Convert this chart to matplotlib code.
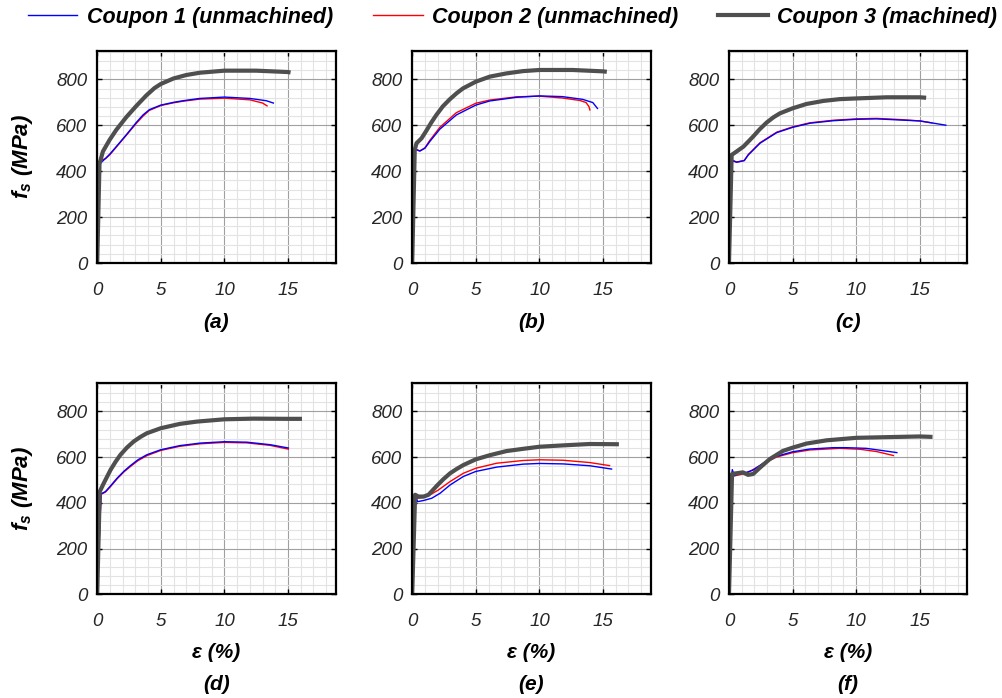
import matplotlib
matplotlib.use("Agg")
import matplotlib.pyplot as plt
from matplotlib.ticker import MultipleLocator
from matplotlib.lines import Line2D

plt.rcParams['font.family'] = ['Liberation Sans', 'DejaVu Sans']
plt.rcParams['mathtext.fontset'] = 'custom'
plt.rcParams['mathtext.bfit'] = 'Liberation Sans:bold:italic'
plt.rcParams['mathtext.it'] = 'Liberation Sans:italic'
plt.rcParams['mathtext.rm'] = 'Liberation Sans'

# ---------------- data (strain %, stress MPa) ----------------
series_names = ["Coupon 1 (unmachined)", "Coupon 2 (unmachined)", "Coupon 3 (machined)"]
panel_labels = ["(a)", "(b)", "(c)", "(d)", "(e)", "(f)"]
x_ticks = [0, 5, 10, 15]
y_ticks = [0, 200, 400, 600, 800]

# panel (a)
a_c1_strain = [0, 0.2, 0.66, 1.0, 1.5, 2.28, 3.07, 3.6, 4.1, 5.0, 6.0, 6.75, 8.06, 10.0, 12.0, 13.3, 13.9]
a_c1_stress = [0, 432, 456, 475, 507, 558, 612, 645, 668, 688, 700, 707, 717, 723, 717, 707, 696]
a_c2_strain = [0, 0.2, 0.66, 1.0, 1.5, 2.28, 3.07, 3.6, 4.1, 5.0, 6.0, 6.75, 8.06, 10.0, 12.0, 13.0, 13.4]
a_c2_stress = [0, 445, 455, 472, 505, 556, 608, 640, 665, 686, 698, 705, 714, 718, 711, 697, 683]
a_c3_strain = [0, 0.18, 0.45, 0.97, 1.5, 2.28, 3.07, 3.86, 4.5, 5.0, 6.0, 7.0, 8.06, 10.0, 12.5, 15.0, 15.2]
a_c3_stress = [0, 432, 486, 536, 580, 635, 684, 730, 762, 780, 804, 819, 829, 838, 838, 832, 830]

# panel (b)
b_c1_strain = [0, 0.2, 0.6, 1.0, 1.38, 2.17, 3.47, 5.0, 6.1, 8.2, 10.0, 11.8, 13.4, 14.2, 14.6]
b_c1_stress = [0, 496, 488, 500, 529, 583, 645, 688, 706, 722, 728, 725, 713, 699, 671]
b_c2_strain = [0, 0.2, 0.6, 1.0, 1.38, 2.17, 3.47, 5.0, 6.1, 8.2, 10.0, 11.8, 13.2, 13.67, 13.9, 13.98]
b_c2_stress = [0, 498, 488, 502, 534, 591, 655, 696, 710, 724, 727, 719, 708, 699, 681, 664]
b_c3_strain = [0, 0.2, 0.34, 0.73, 1.12, 1.5, 1.9, 2.4, 2.95, 3.5, 4.0, 5.0, 6.1, 7.4, 8.7, 10.0, 12.6, 15.0, 15.3]
b_c3_stress = [0, 493, 522, 543, 577, 612, 645, 682, 713, 740, 761, 790, 812, 826, 836, 841, 841, 835, 833]

# panel (c)
c_c1_strain = [0, 0.26, 0.6, 1.2, 1.52, 2.44, 3.75, 5.0, 6.37, 8.2, 10.0, 11.6, 13.45, 15.0, 16.1, 17.1]
c_c1_stress = [0, 446, 439, 446, 471, 522, 568, 591, 609, 620, 626, 628, 623, 619, 609, 600]
c_c2_strain = [0, 0.26, 0.6, 1.2, 1.52, 2.44, 3.75, 5.0, 6.37, 8.2, 10.0, 11.6, 13.45, 15.0, 16.0]
c_c2_stress = [0, 448, 440, 447, 473, 524, 570, 593, 611, 622, 628, 630, 625, 619, 610]
c_c3_strain = [0, 0.21, 0.6, 1.13, 1.5, 1.9, 2.4, 2.96, 3.5, 4.0, 5.0, 6.1, 7.4, 8.7, 10.0, 12.4, 15.0, 15.5]
c_c3_stress = [0, 471, 486, 507, 528, 551, 582, 612, 635, 652, 674, 693, 706, 714, 717, 722, 722, 720]

# panel (d)
d_c1_strain = [0, 0.3, 0.65, 1.05, 1.57, 2.1, 2.6, 3.2, 3.9, 5.0, 6.5, 8.1, 10.0, 11.76, 13.6, 15.08]
d_c1_stress = [0, 439, 449, 474, 508, 538, 562, 588, 610, 632, 650, 661, 667, 665, 654, 639]
d_c2_strain = [0, 0.3, 0.65, 1.05, 1.57, 2.1, 2.6, 3.2, 3.9, 5.0, 6.5, 8.1, 10.0, 11.76, 13.6, 15.08]
d_c2_stress = [0, 437, 447, 471, 505, 535, 558, 584, 606, 629, 647, 658, 664, 662, 651, 634]
d_c3_strain = [0, 0.2, 0.52, 1.05, 1.45, 1.83, 2.35, 2.87, 3.4, 3.9, 5.0, 6.5, 7.84, 10.0, 12.3, 15.0, 16.1]
d_c3_stress = [0, 449, 486, 544, 580, 610, 642, 668, 688, 704, 726, 745, 755, 765, 768, 767, 767]

# panel (e)
e_c1_strain = [0, 0.26, 0.42, 0.89, 1.54, 2.2, 2.98, 4.02, 5.0, 6.64, 8.73, 10.0, 11.86, 13.95, 15.73]
e_c1_stress = [0, 435, 405, 410, 420, 442, 478, 515, 537, 556, 569, 572, 570, 562, 547]
e_c2_strain = [0, 0.18, 0.42, 0.89, 1.41, 2.06, 2.98, 4.02, 5.0, 6.64, 8.73, 10.0, 11.86, 13.95, 15.57]
e_c2_stress = [0, 439, 420, 424, 435, 456, 493, 529, 551, 573, 585, 588, 586, 576, 562]
e_c3_strain = [0, 0.23, 0.5, 0.89, 1.28, 1.93, 2.45, 2.98, 3.5, 4.02, 5.0, 6.1, 7.4, 8.73, 10.0, 11.86, 13.95, 16.25]
e_c3_stress = [0, 435, 427, 427, 435, 474, 503, 529, 548, 565, 590, 608, 626, 636, 645, 651, 657, 656]

# panel (f)
f_c1_strain = [0, 0.26, 0.4, 0.84, 1.37, 1.9, 2.68, 3.73, 5.0, 6.35, 8.2, 9.24, 10.8, 12.1, 13.25]
f_c1_stress = [0, 545, 518, 529, 533, 543, 573, 603, 623, 635, 641, 641, 638, 628, 619]
f_c2_strain = [0, 0.26, 0.45, 1.37, 2.68, 3.73, 5.0, 6.35, 8.7, 10.3, 11.6, 12.97]
f_c2_stress = [0, 539, 518, 529, 570, 600, 619, 631, 638, 634, 624, 606]
f_c3_strain = [0, 0.24, 0.58, 1.1, 1.5, 1.9, 2.4, 3.2, 4.25, 5.0, 6.1, 7.66, 10.0, 12.4, 15.0, 16.0]
f_c3_stress = [0, 526, 529, 533, 522, 526, 552, 591, 627, 641, 659, 673, 684, 687, 690, 688]

panels = [
    [(a_c1_strain, a_c1_stress), (a_c2_strain, a_c2_stress), (a_c3_strain, a_c3_stress)],
    [(b_c1_strain, b_c1_stress), (b_c2_strain, b_c2_stress), (b_c3_strain, b_c3_stress)],
    [(c_c1_strain, c_c1_stress), (c_c2_strain, c_c2_stress), (c_c3_strain, c_c3_stress)],
    [(d_c1_strain, d_c1_stress), (d_c2_strain, d_c2_stress), (d_c3_strain, d_c3_stress)],
    [(e_c1_strain, e_c1_stress), (e_c2_strain, e_c2_stress), (e_c3_strain, e_c3_stress)],
    [(f_c1_strain, f_c1_stress), (f_c2_strain, f_c2_stress), (f_c3_strain, f_c3_stress)],
]

# ---------------- styles ----------------
colors = ['#0000ff', '#ff0000', '#4f4f4f']
widths = [1.0, 1.0, 3.0]
zorders = [2.2, 2.1, 2.3]

fig = plt.figure(figsize=(10.03, 6.98), dpi=100)
W, H = 1003.0, 698.0
lefts_px = [97.2, 412.2, 729.0]
rows_px = [(50.7, 263.0), (382.7, 594.3)]
ax_w = 238.5

lab_font = dict(family='Liberation Sans', weight='bold', style='italic')

for i, data in enumerate(panels):
    r, c = divmod(i, 3)
    top, bot = rows_px[r]
    ax = fig.add_axes([lefts_px[c] / W, 1 - bot / H, ax_w / W, (bot - top) / H])
    for k, (xs, ys) in enumerate(data):
        ax.plot(xs, ys, color=colors[k], lw=widths[k], zorder=zorders[k],
                solid_capstyle='butt', solid_joinstyle='round')
    ax.set_xlim(0, 18.75)
    ax.set_ylim(0, 925)
    ax.set_xticks(x_ticks)
    ax.set_yticks(y_ticks)
    ax.xaxis.set_minor_locator(MultipleLocator(1))
    ax.yaxis.set_minor_locator(MultipleLocator(40))
    ax.grid(which='major', color='#a0a0a0', lw=0.8, zorder=0.5)
    ax.grid(which='minor', color='#e3e3e3', lw=0.8, zorder=0.4)
    ax.set_axisbelow(True)
    ax.tick_params(which='major', direction='in', length=3.5, width=1.0,
                   top=True, right=True, labelsize=13.5, labelcolor='#262626')
    ax.tick_params(which='minor', length=0)
    ax.tick_params(axis='x', pad=13.5)
    ax.tick_params(axis='y', pad=7)
    for lbl in ax.get_xticklabels() + ax.get_yticklabels():
        lbl.set_fontstyle('italic')
    for sp in ax.spines.values():
        sp.set_linewidth(1.6)
        sp.set_color('black')
    if r == 0:
        ax.annotate(panel_labels[i], xy=(0.5, 0), xycoords='axes fraction',
                    xytext=(0, -59 * 0.72), textcoords='offset points',
                    ha='center', va='center', fontsize=15, **lab_font)
    else:
        ax.annotate('ε (%)', xy=(0.5, 0), xycoords='axes fraction',
                    xytext=(0, -58 * 0.72), textcoords='offset points',
                    ha='center', va='center', fontsize=15, **lab_font)
        ax.annotate(panel_labels[i], xy=(0.5, 0), xycoords='axes fraction',
                    xytext=(0, -90 * 0.72), textcoords='offset points',
                    ha='center', va='center', fontsize=15, **lab_font)
    if c == 0:
        ax.set_ylabel(r'$\mathbfit{f}_{\mathbfit{s}}$ (MPa)', fontsize=16, va='center', **lab_font)
        ax.yaxis.set_label_coords(-75 / ax_w, 0.5)

handles = [Line2D([], [], color=colors[k], lw=widths[k]) for k in range(3)]
fig.legend(handles, series_names, loc='center', bbox_to_anchor=(0.511, 0.975),
           ncol=3, frameon=False, handlelength=2.3, handletextpad=0.45,
           columnspacing=1.85,
           prop=dict(family='Liberation Sans', weight='bold', style='italic', size=15.5))

fig.savefig('out.png', dpi=100)
